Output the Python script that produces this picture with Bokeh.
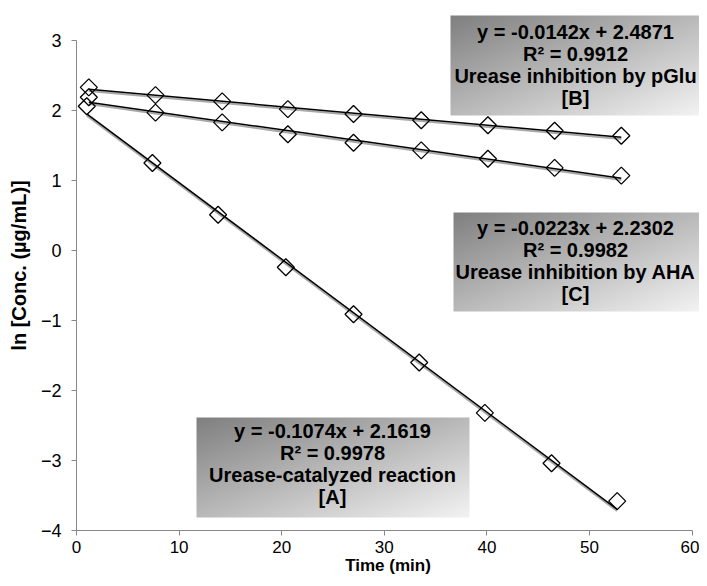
import numpy as np
from bokeh.plotting import figure
from bokeh.models import Range1d, SingleIntervalTicker
from bokeh.core.properties import value
from bokeh.embed import file_html
from bokeh.resources import INLINE

# ---- data ----
time_a = [1.0, 7.4, 13.8, 20.4, 27.0, 33.4, 39.8, 46.3, 52.7]
conc_a = [2.06, 1.25, 0.51, -0.24, -0.91, -1.60, -2.32, -3.04, -3.58]

time_b = [1.2, 7.7, 14.2, 20.6, 27.0, 33.6, 40.1, 46.6, 53.1]
conc_b = [2.33, 2.22, 2.13, 2.02, 1.95, 1.86, 1.79, 1.71, 1.64]

time_c = [1.2, 7.7, 14.2, 20.6, 27.0, 33.6, 40.1, 46.6, 53.1]
conc_c = [2.19, 1.97, 1.83, 1.66, 1.54, 1.43, 1.31, 1.18, 1.07]

label_a = ["y = -0.1074x + 2.1619", "R² = 0.9978", "Urease-catalyzed reaction", "[A]"]
label_b = ["y = -0.0142x + 2.4871", "R² = 0.9912", "Urease inhibition by pGlu", "[B]"]
label_c = ["y = -0.0223x + 2.2302", "R² = 0.9982", "Urease inhibition by AHA", "[C]"]

x_ticks_interval = 10
y_ticks_interval = 1

FONT = value("Liberation Sans")

# layout geometry (screen pixels)
W, H = 699, 578
LEFT, X0, X60 = 76, 76.0, 691.6
PPX = (X60 - X0) / 60.0
Y3, YM4 = 40.0, 530.0
PPY = (YM4 - Y3) / 7.0


def px2x(px):
    return (px - X0) / PPX


def py2y(py):
    return 3 - (py - Y3) / PPY


p = figure(width=W, height=H, output_backend="svg", toolbar_location=None,
           x_range=Range1d(0, px2x(W)), y_range=Range1d(-4, py2y(0)),
           min_border_left=LEFT, min_border_right=0, min_border_top=0,
           min_border_bottom=int(H - YM4))
p.outline_line_color = None
p.xgrid.visible = False
p.ygrid.visible = False
p.background_fill_color = "white"
p.border_fill_color = "white"

for ax in (p.xaxis[0], p.yaxis[0]):
    ax.axis_line_color = "#888888"
    ax.axis_line_width = 1
    ax.major_tick_line_color = "#888888"
    ax.major_tick_out = 5
    ax.major_tick_in = 0
    ax.minor_tick_line_color = None
    ax.major_label_text_font = "Liberation Sans"
    ax.major_label_text_color = "#000000"
    ax.axis_label_text_font = "Liberation Sans"
    ax.axis_label_text_font_style = "bold"
    ax.axis_label_text_color = "#000000"

p.xaxis.major_label_text_font_size = "17px"
p.yaxis.major_label_text_font_size = "18px"
p.xaxis.axis_label_text_font_size = "17px"
p.yaxis.axis_label_text_font_size = "20px"
p.xaxis.bounds = (0, 60)
p.yaxis.bounds = (-4, 3)
p.xaxis.ticker = SingleIntervalTicker(interval=x_ticks_interval)
p.yaxis.ticker = SingleIntervalTicker(interval=y_ticks_interval)
p.xaxis.axis_label = "Time (min)"
p.yaxis.axis_label = "ln [Conc. (µg/mL)]"
p.xaxis.major_label_standoff = 5
p.yaxis.major_label_standoff = 10
p.xaxis.axis_label_standoff = 0
p.yaxis.axis_label_standoff = 8

# trendlines (linear fits of each series) with a soft shadow
for tx, cy in ((time_a, conc_a), (time_b, conc_b), (time_c, conc_c)):
    k, b = np.polyfit(tx, cy, 1)
    xs = [min(tx), max(tx)]
    ys = [k * v + b for v in xs]
    p.line(xs, [v - 0.025 for v in ys], line_color="#a8a8a8", line_width=2)
    p.line(xs, ys, line_color="#000000", line_width=1.5)

# markers: open diamonds
for tx, cy in ((time_a, conc_a), (time_b, conc_b), (time_c, conc_c)):
    p.scatter(tx, cy, marker="square", angle=np.pi / 4, size=12,
              fill_alpha=0, line_color="#000000", line_width=1.3)


# gradient boxes for the trendline labels
def gradient(wpx, hpx, dark=128, light=243):
    img = np.empty((hpx, wpx), dtype=np.uint32)
    view = img.view(dtype=np.uint8).reshape((hpx, wpx, 4))
    xs = np.linspace(0, 1, wpx)
    ys = np.linspace(1, 0, hpx)
    t = (xs[None, :] + ys[:, None]) / 2.0
    g = (dark + (light - dark) * t).astype(np.uint8)
    view[..., 0] = g
    view[..., 1] = g
    view[..., 2] = g
    view[..., 3] = 255
    return img


# (left px, top px, right px, bottom px, text centre px, first line px, lines)
boxes = [
    (196, 417, 469, 517, 332, 430, label_a),
    (450, 15, 699, 115, 575, 31.5, label_b),
    (453, 212, 699, 311, 575, 227, label_c),
]
LINE = 22.0
for l, t, r, b, cx, ly, lines in boxes:
    img = gradient(int(r - l), int(b - t))
    p.image_rgba(image=[img], x=px2x(l), y=py2y(b),
                 dw=px2x(r) - px2x(l), dh=py2y(t) - py2y(b))
    ys = [py2y(ly + i * LINE) for i in range(len(lines))]
    p.text(x=[px2x(cx)] * len(lines), y=ys, text=lines, text_font=FONT,
           text_font_size="20px", text_font_style="bold", text_color="#000000",
           text_align="center", text_baseline="middle")

open("out.html", "w").write(file_html(p, INLINE))
